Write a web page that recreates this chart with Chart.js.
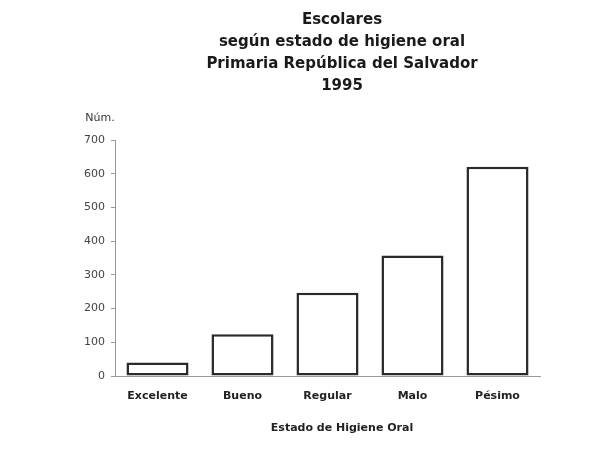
<!DOCTYPE html>
<html>
<head>
<meta charset="utf-8">
<script src="https://cdn.jsdelivr.net/npm/chart.js"></script>
<style>
  html, body { margin: 0; padding: 0; background: #fff; }
  #wrap { position: relative; width: 614px; height: 450px; }
</style>
</head>
<body>
<div id="wrap"><canvas id="grafica"></canvas></div>
<script>
// datos
const categorias = ["Excelente", "Bueno", "Regular", "Malo", "Pésimo"];
const escolares = [40, 124, 247, 358, 621];
const tituloLineas = ["Escolares", "según estado de higiene oral", "Primaria República del Salvador", "1995"];
const tituloEjeX = "Estado de Higiene Oral";
const etiquetaEjeY = "Núm.";

const fuente = "'DejaVu Sans', sans-serif";

// etiqueta "Núm." encima del eje vertical
const etiquetaNum = {
  id: "etiquetaNum",
  afterDraw(chart) {
    const { ctx, chartArea } = chart;
    ctx.save();
    ctx.font = "11px " + fuente;
    ctx.fillStyle = "#333";
    ctx.textAlign = "center";
    ctx.textBaseline = "middle";
    ctx.fillText(etiquetaEjeY, chartArea.left - 15, chartArea.top - 22);
    ctx.restore();
  }
};

new Chart(document.getElementById("grafica"), {
  type: "bar",
  data: {
    labels: categorias,
    datasets: [{
      data: escolares,
      backgroundColor: "#ffffff",
      borderColor: "#2a2a2a",
      borderWidth: 2.5,
      borderSkipped: false,
      barPercentage: 0.73,
      categoryPercentage: 1
    }]
  },
  options: {
    responsive: true,
    maintainAspectRatio: false,
    animation: false,
    layout: { padding: { left: 70, right: 0, top: 0, bottom: 0 } },
    plugins: {
      legend: { display: false },
      tooltip: { enabled: false },
      title: {
        display: true,
        text: tituloLineas,
        color: "#1a1a1a",
        font: { family: fuente, size: 15, weight: "bold", lineHeight: 1.47 },
        padding: { top: 9, bottom: 43 }
      },
      subtitle: {
        display: true,
        position: "bottom",
        text: tituloEjeX,
        color: "#222",
        font: { family: fuente, size: 11, weight: "bold", lineHeight: 1.2 },
        padding: { top: 0, bottom: 15 }
      }
    },
    scales: {
      x: {
        grid: { display: false },
        border: { display: true, color: "#999", width: 1 },
        ticks: {
          color: "#222",
          font: { family: fuente, size: 11, weight: "bold" },
          padding: 6
        },
        afterFit(s) { s.height = 45.8; }
      },
      y: {
        min: 0,
        max: 700,
        grid: { drawOnChartArea: false, drawTicks: true, tickLength: 4, color: "#999" },
        border: { display: true, color: "#999", width: 1 },
        ticks: {
          stepSize: 100,
          color: "#444",
          font: { family: fuente, size: 11 },
          padding: 6
        },
        afterFit(s) { s.width = 45; }
      },
      relleno: {
        type: "linear",
        position: "right",
        display: true,
        grid: { display: false },
        border: { display: false },
        ticks: { display: false },
        afterFit(s) { s.width = 74; }
      }
    }
  },
  plugins: [etiquetaNum]
});
</script>
</body>
</html>
